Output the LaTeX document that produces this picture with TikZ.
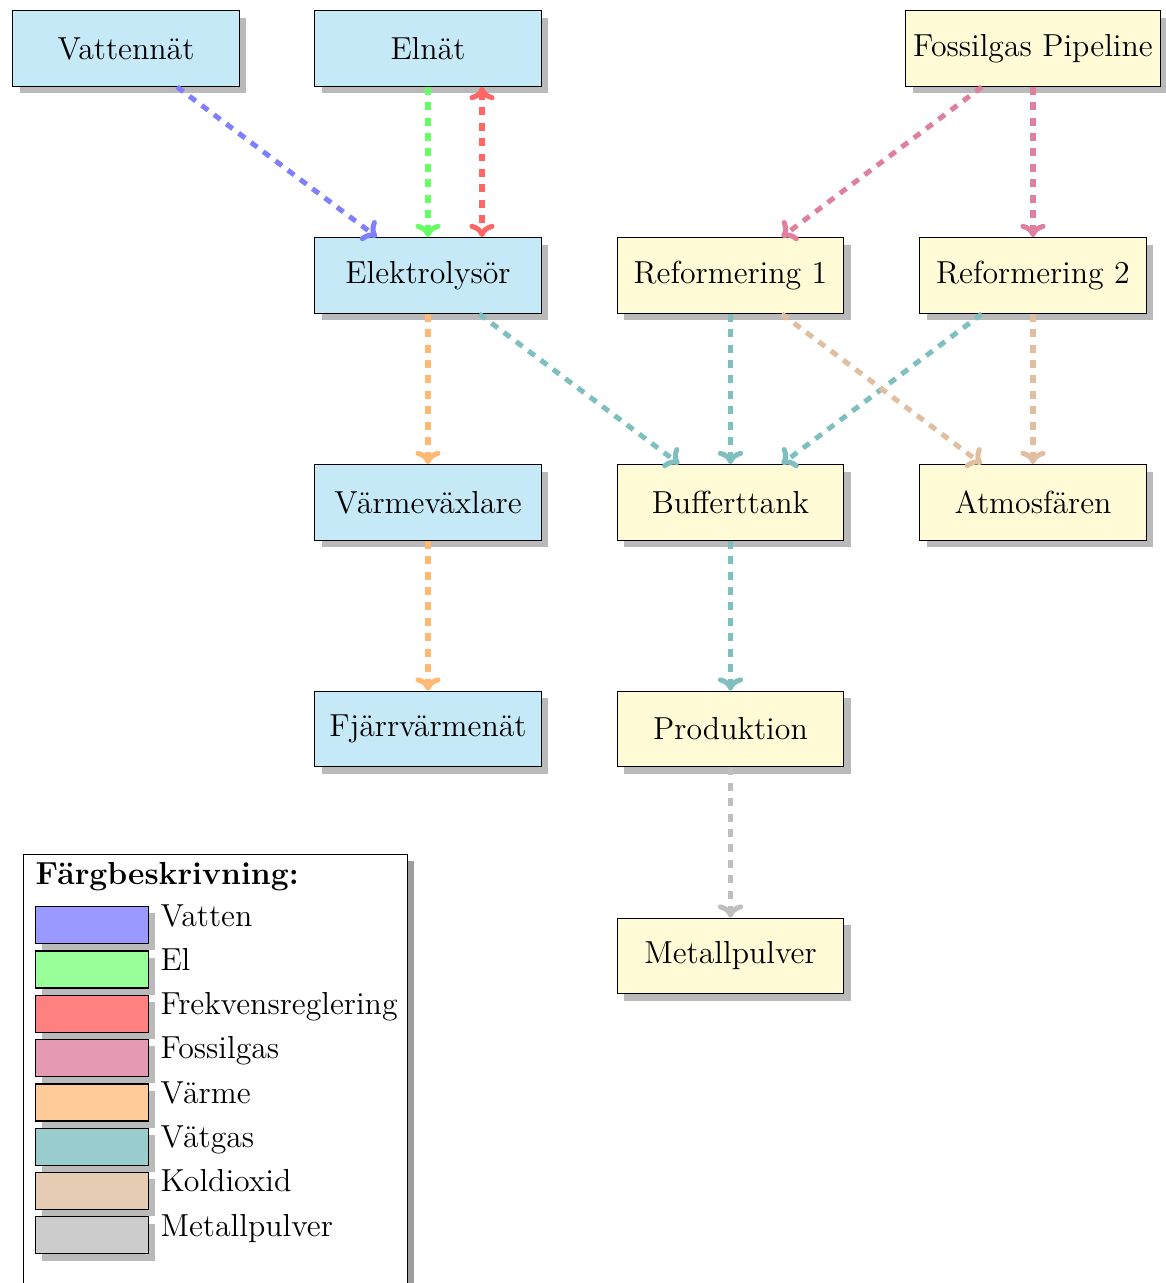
\documentclass[tikz,border=0pt]{standalone}
\usepackage{fontspec}
\usetikzlibrary{shadows,arrows.meta}
\definecolor{nodeblue}{RGB}{198,233,248}
\definecolor{nodeyellow}{RGB}{255,251,214}
\colorlet{lVatten}{blue!50}
\colorlet{lEl}{green!60}
\colorlet{lFrek}{red!60}
\colorlet{lFossil}{purple!50}
\colorlet{lVarme}{orange!55}
\colorlet{lVatgas}{teal!50}
\colorlet{lKol}{brown!50}
\colorlet{lMetall}{gray!50}
\tikzset{
  tipcm/.tip={Computer Modern Rightarrow[length=5pt,width=9.5pt,round]},
  boxbase/.style={draw=black, line width=0.5pt, minimum width=3cm, minimum height=1cm,
    inner sep=2.8pt, drop shadow={shadow xshift=0.09cm, shadow yshift=-0.09cm, fill=black!27, opacity=1}},
  bluebox/.style={boxbase, fill=nodeblue},
  yellowbox/.style={boxbase, fill=nodeyellow},
  flow/.style={line width=1.9pt, dash pattern=on 3pt off 2.8pt, -tipcm},
  swatch/.style={draw=black, line width=0.5pt, anchor=north west, inner sep=0pt,
    minimum width=1.497cm, minimum height=0.49cm,
    drop shadow={shadow xshift=0.09cm, shadow yshift=-0.09cm, fill=black!27, opacity=1}},
  legtext/.style={anchor=base west, inner sep=0pt}
}
\begin{document}
\begin{tikzpicture}[x=0.013245cm, y=-0.013245cm, font=\fontsize{12pt}{14.5pt}\selectfont]
\useasboundingbox (0,0) rectangle (1166,1283);
% nodes
\node[bluebox] (vatten) at (126,48.5) {Vattennät};
\node[bluebox] (elnat) at (428,48.5) {Elnät};
\node[yellowbox] (fossil) at (1033,48.5) {Fossilgas Pipeline};
\node[bluebox] (elektro) at (428,275.5) {Elektrolysör};
\node[yellowbox] (ref1) at (730.5,275.5) {Reformering 1};
\node[yellowbox] (ref2) at (1033,275.5) {Reformering 2};
\node[bluebox] (varme) at (428,502.5) {Värmeväxlare};
\node[yellowbox] (buffer) at (730.5,502.5) {Bufferttank};
\node[yellowbox] (atmos) at (1033,502.5) {Atmosfären};
\node[bluebox] (fjarr) at (428,729) {Fjärrvärmenät};
\node[yellowbox] (prod) at (730.5,729) {Produktion};
\node[yellowbox] (metall) at (730.5,956) {Metallpulver};
% connectors
\draw[flow, lVatten] (vatten) -- (elektro);
\draw[flow, lEl] (elnat) -- (elektro);
\draw[flow, lFrek, tipcm-tipcm] ([xshift=0.715cm]elnat.south) -- ([xshift=0.715cm]elektro.north);
\draw[flow, lFossil] (fossil) -- (ref1);
\draw[flow, lFossil] (fossil) -- (ref2);
\draw[flow, lVarme] (elektro) -- (varme);
\draw[flow, lVarme] (varme) -- (fjarr);
\draw[flow, lVatgas] (elektro) -- (buffer);
\draw[flow, lVatgas] (ref1) -- (buffer);
\draw[flow, lVatgas] (ref2) -- (buffer);
\draw[flow, lKol] (ref1) -- (atmos);
\draw[flow, lKol] (ref2) -- (atmos);
\draw[flow, lVatgas] (buffer) -- (prod);
\draw[flow, lMetall] (prod) -- (metall);
% legend
\node[draw=black, line width=0.5pt, fill=white, anchor=north west, inner sep=0pt,
  minimum width=5.086cm, minimum height=6.2cm,
  drop shadow={shadow xshift=0.09cm, shadow yshift=-0.09cm, fill=black!38, opacity=1}]
  (legend) at (23,854) {};
\node[legtext, font=\fontsize{12pt}{14.5pt}\selectfont\bfseries] (legtitle) at (35,884) {Färgbeskrivning:};
\foreach \i/\c/\t in {0/blue!40/Vatten, 1/green!40/El, 2/red!50/Frekvensreglering,
  3/purple!40/Fossilgas, 4/orange!40/Värme, 5/teal!40/Vätgas, 6/brown!40/Koldioxid,
  7/gray!40/Metallpulver}{
  \node[swatch, fill=\c] (sw\i) at (35,906+44.3*\i) {};
  \node[legtext] (lab\i) at (160,926+44.3*\i) {\t};
}
\end{tikzpicture}
\end{document}
